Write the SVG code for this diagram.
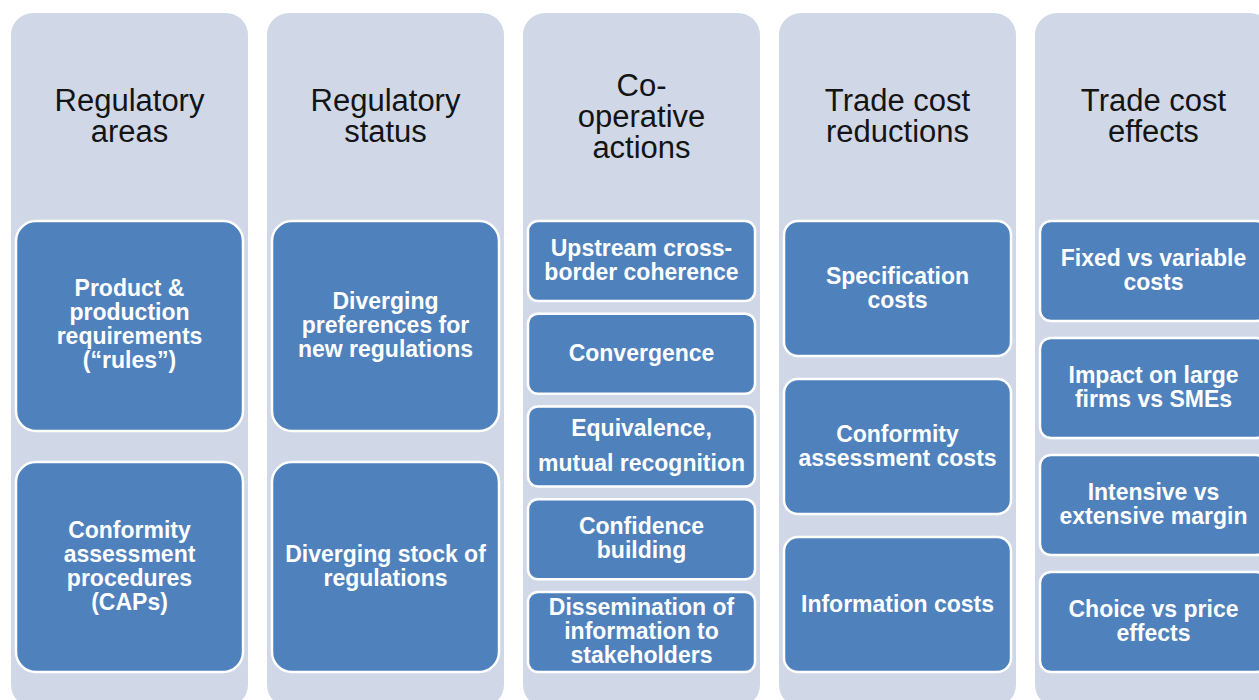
<svg xmlns="http://www.w3.org/2000/svg" width="1259" height="700" viewBox="0 0 1259 700">
<style>
.col{fill:#D0D8E8;}
.box{fill:#4F81BD;stroke:#FFFFFF;stroke-width:2.5;}
.hd{font-family:"Liberation Sans",Arial,sans-serif;font-size:31px;fill:#141414;text-anchor:middle;}
.bt{font-family:"Liberation Sans",Arial,sans-serif;font-size:23px;font-weight:bold;fill:#FFFFFF;text-anchor:middle;}
</style>
<rect width="1259" height="700" fill="#FFFFFF"/>
<g id="col1">
<rect class="col" x="11" y="13" width="237" height="694" rx="22"/>
<text class="hd" x="129.5"><tspan x="129.5" y="111">Regulatory</tspan><tspan x="129.5" y="142">areas</tspan></text>
</g>
<g id="col2">
<rect class="col" x="267" y="13" width="237" height="694" rx="22"/>
<text class="hd"><tspan x="385.5" y="111">Regulatory</tspan><tspan x="385.5" y="142">status</tspan></text>
</g>
<g id="col3">
<rect class="col" x="523" y="13" width="237" height="694" rx="22"/>
<text class="hd"><tspan x="641.5" y="96">Co-</tspan><tspan x="641.5" y="127">operative</tspan><tspan x="641.5" y="158">actions</tspan></text>
</g>
<g id="col4">
<rect class="col" x="779" y="13" width="237" height="694" rx="22"/>
<text class="hd"><tspan x="897.5" y="111">Trade cost</tspan><tspan x="897.5" y="142">reductions</tspan></text>
</g>
<g id="col5">
<rect class="col" x="1035" y="13" width="237" height="694" rx="22"/>
<text class="hd"><tspan x="1153.5" y="111">Trade cost</tspan><tspan x="1153.5" y="142">effects</tspan></text>
</g>
<g id="connectors"></g>
<g id="n-product">
<rect class="box" x="16" y="221" width="227" height="210" rx="20"/>
<text class="bt"><tspan x="129.5" y="296">Product &amp;</tspan><tspan x="129.5" y="320">production</tspan><tspan x="129.5" y="344">requirements</tspan><tspan x="129.5" y="368">(“rules”)</tspan></text>
</g>
<g id="n-caps">
<rect class="box" x="16" y="462" width="227" height="210" rx="20"/>
<text class="bt"><tspan x="129.5" y="538">Conformity</tspan><tspan x="129.5" y="562">assessment</tspan><tspan x="129.5" y="586">procedures</tspan><tspan x="129.5" y="610">(CAPs)</tspan></text>
</g>
<g id="n-diverging-pref">
<rect class="box" x="272" y="221" width="227" height="210" rx="20"/>
<text class="bt"><tspan x="385.5" y="309">Diverging</tspan><tspan x="385.5" y="333">preferences for</tspan><tspan x="385.5" y="357">new regulations</tspan></text>
</g>
<g id="n-diverging-stock">
<rect class="box" x="272" y="462" width="227" height="210" rx="20"/>
<text class="bt"><tspan x="385.5" y="562">Diverging stock of</tspan><tspan x="385.5" y="586">regulations</tspan></text>
</g>
<g id="n-upstream">
<rect class="box" x="528" y="221" width="227" height="80" rx="10"/>
<text class="bt"><tspan x="641.5" y="256">Upstream cross-</tspan><tspan x="641.5" y="280">border coherence</tspan></text>
</g>
<g id="n-convergence">
<rect class="box" x="528" y="313.75" width="227" height="80" rx="10"/>
<text class="bt" x="641.5" y="361">Convergence</text>
</g>
<g id="n-equivalence">
<rect class="box" x="528" y="406.5" width="227" height="80" rx="10"/>
<text class="bt"><tspan x="641.5" y="436">Equivalence,</tspan><tspan x="641.5" y="471">mutual recognition</tspan></text>
</g>
<g id="n-confidence">
<rect class="box" x="528" y="499.25" width="227" height="80" rx="10"/>
<text class="bt"><tspan x="641.5" y="534">Confidence</tspan><tspan x="641.5" y="558">building</tspan></text>
</g>
<g id="n-dissemination">
<rect class="box" x="528" y="592" width="227" height="80" rx="10"/>
<text class="bt"><tspan x="641.5" y="615">Dissemination of</tspan><tspan x="641.5" y="639">information to</tspan><tspan x="641.5" y="663">stakeholders</tspan></text>
</g>
<g id="n-specification">
<rect class="box" x="784" y="221" width="227" height="135" rx="14"/>
<text class="bt"><tspan x="897.5" y="284">Specification</tspan><tspan x="897.5" y="308">costs</tspan></text>
</g>
<g id="n-conformity-costs">
<rect class="box" x="784" y="379" width="227" height="135" rx="14"/>
<text class="bt"><tspan x="897.5" y="442">Conformity</tspan><tspan x="897.5" y="466">assessment costs</tspan></text>
</g>
<g id="n-information">
<rect class="box" x="784" y="537" width="227" height="135" rx="14"/>
<text class="bt" x="897.5" y="612">Information costs</text>
</g>
<g id="n-fixed">
<rect class="box" x="1040" y="221" width="227" height="100" rx="11"/>
<text class="bt"><tspan x="1153.5" y="266">Fixed vs variable</tspan><tspan x="1153.5" y="290">costs</tspan></text>
</g>
<g id="n-impact">
<rect class="box" x="1040" y="338" width="227" height="100" rx="11"/>
<text class="bt"><tspan x="1153.5" y="383">Impact on large</tspan><tspan x="1153.5" y="407">firms vs SMEs</tspan></text>
</g>
<g id="n-intensive">
<rect class="box" x="1040" y="455" width="227" height="100" rx="11"/>
<text class="bt"><tspan x="1153.5" y="500">Intensive vs</tspan><tspan x="1153.5" y="524">extensive margin</tspan></text>
</g>
<g id="n-choice">
<rect class="box" x="1040" y="572" width="227" height="100" rx="11"/>
<text class="bt"><tspan x="1153.5" y="617">Choice vs price</tspan><tspan x="1153.5" y="641">effects</tspan></text>
</g>
</svg>
